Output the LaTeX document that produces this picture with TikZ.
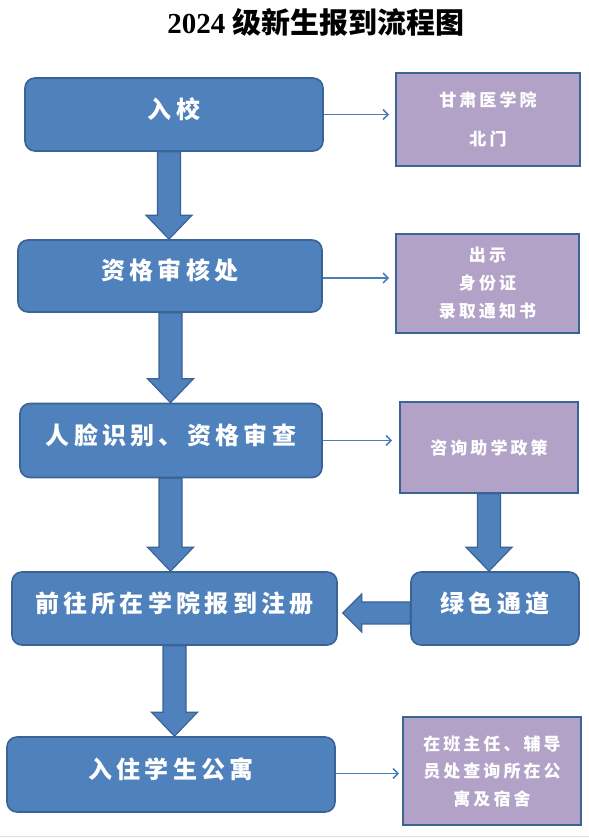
\documentclass[tikz,border=0pt]{standalone}
\usepackage{fontspec}
\setmainfont{Liberation Serif}
\newfontfamily\cjk{Noto Sans CJK SC}[LetterSpace=18]
\newfontfamily\cjktitle{Noto Sans CJK SC}
\usetikzlibrary{calc,arrows.meta}
\definecolor{boxblue}{HTML}{4F81BD}
\definecolor{boxedge}{HTML}{3A6396}
\definecolor{boxpurple}{HTML}{B3A2C7}
\definecolor{thinblue}{HTML}{4A7EBB}
\newcommand\blockdown[3]{% start, end, unused
  \draw[blockarrow] ($(#1)+(-11.5,0)$) -- ($(#2)+(-11.5,24)$) -- ($(#2)+(-23,24)$) -- (#2)
    -- ($(#2)+(23,24)$) -- ($(#2)+(11.5,24)$) -- ($(#1)+(11.5,0)$) -- cycle;}
\begin{document}
\begin{tikzpicture}[x=1pt,y=1pt,
  mainbox/.style={draw=boxedge,line width=1.6pt,fill=boxblue,rounded corners=10pt,
    text=white,font=\cjk\bfseries\fontsize{24}{28}\selectfont,inner sep=0pt,
    text height=10pt,text depth=2pt},
  notebox/.style={draw=boxedge,line width=1.6pt,fill=boxpurple,
    text=white,font=\cjk\bfseries\fontsize{17}{28}\selectfont,inner sep=0pt,align=center},
  blockarrow/.style={draw=boxedge,line width=1.2pt,fill=boxblue,line join=miter},
  thinarrow/.style={draw=thinblue,line width=1.8pt,-{Straight Barb[length=5pt,width=10pt,line width=1.6pt]}}]
\useasboundingbox (0,0) rectangle (589,838);
\fill[white] (0,0) rectangle (589,838);
\draw[gray!25,line width=1pt] (0,1.5) -- (589,1.5);
% title
\node (title) at (316,816) {\bfseries\fontsize{29}{30}\selectfont 2024 {\cjktitle\bfseries 级新生报到流程图}};
% main boxes
\node[mainbox,minimum width=298,minimum height=73] (in) at (174,723.5) {入校};
\node[mainbox,minimum width=304,minimum height=72] (zg) at (170,562) {资格审核处};
\node[mainbox,minimum width=302,minimum height=74] (rl) at (171,397.5) {人脸识别、资格审查};
\node[mainbox,minimum width=325,minimum height=73] (qw) at (174.5,229.5) {前往所在学院报到注册};
\node[mainbox,minimum width=328,minimum height=75] (rz) at (171,63.5) {入住学生公寓};
\node[mainbox,minimum width=168,minimum height=73] (ls) at (495,229.5) {绿色通道};
% note boxes
\node[notebox,minimum width=184,minimum height=93,font=\cjk\bfseries\fontsize{17}{39}\selectfont] (na) at (488,718.5) {甘肃医学院\\北门};
\node[notebox,minimum width=183,minimum height=99] (nb) at (487.5,554.5) {出示\\身份证\\录取通知书};
\node[notebox,minimum width=178,minimum height=91] (nc) at (489,390.5) {\raisebox{-5pt}{咨询助学政策}};
\node[notebox,minimum width=178,minimum height=108,font=\cjk\bfseries\fontsize{17}{27.5}\selectfont] (nd) at (492,67) {在班主任、辅导\\员处查询所在公\\寓及宿舍};
% thin arrows
\draw[thinarrow,shorten >=6pt] (in.east) -- (in.east -| na.west);
\draw[thinarrow,shorten >=6pt] ($(zg.east)+(0,-2)$) -- ($(zg.east -| nb.west)+(0,-2)$);
\draw[thinarrow,shorten >=7pt] (rl.east) -- (rl.east -| nc.west);
\draw[thinarrow,shorten >=3pt] ($(rz.east)+(0,1)$) -- ($(rz.east -| nd.west)+(0,1)$);
% block arrows
\coordinate (c1) at (169,0);
\coordinate (c2) at (170.5,0);
\coordinate (c3) at (174.5,0);
\coordinate (c4) at (489,0);
\blockdown{in.south -| c1}{zg.north -| c1}{}
\blockdown{zg.south -| c2}{rl.north -| c2}{}
\blockdown{rl.south -| c2}{qw.north -| c2}{}
\blockdown{qw.south -| c3}{rz.north -| c3}{}
\blockdown{nc.south -| c4}{ls.north -| c4}{}
% left block arrow
\coordinate (cy) at (0,225);
\draw[blockarrow] (ls.west |- cy) ++(0,11) -- ($(qw.east |- cy)+(24,11)$) -- ($(qw.east |- cy)+(24,19)$)
  -- ($(qw.east |- cy)+(5,0)$) -- ($(qw.east |- cy)+(24,-19)$) -- ($(qw.east |- cy)+(24,-11)$)
  -- ($(ls.west |- cy)+(0,-11)$) -- cycle;
\end{tikzpicture}
\end{document}
